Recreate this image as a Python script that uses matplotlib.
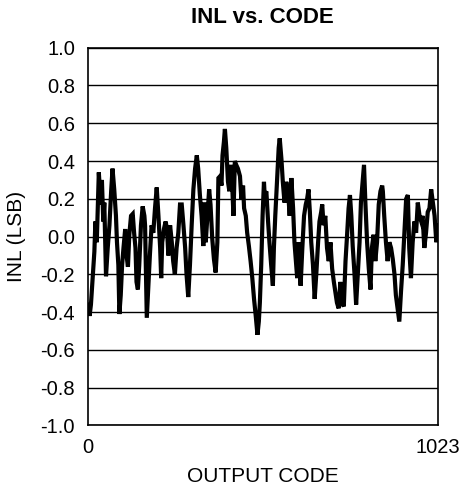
import matplotlib
matplotlib.use("Agg")
import matplotlib.pyplot as plt

plt.rcParams['font.family'] = ['Liberation Sans', 'DejaVu Sans']

# INL readings, output code vs. error in LSB
code = [0, 3, 6, 10, 15, 20, 23, 27, 33, 36, 39, 42, 46, 49, 52, 54, 59, 64, 69, 73,
        78, 83, 86, 90, 93, 97, 101, 105, 110, 114, 118, 122, 127, 132, 136, 140, 143, 147, 151, 156,
        161, 166, 168, 173, 178, 182, 187, 192, 197, 202, 207, 212, 215, 218, 223, 228, 232, 236, 241, 246,
        250, 255, 260, 265, 270, 275, 280, 285, 289, 294, 299, 304, 309, 314, 319, 323, 328, 333, 338, 341,
        345, 350, 355, 359, 364, 369, 374, 379, 382, 387, 391, 394, 398, 401, 405, 410, 414, 418, 423, 426,
        430, 434, 439, 445, 449, 454, 457, 462, 466, 471, 476, 481, 486, 491, 496, 500, 503, 507, 511, 515,
        517, 522, 527, 531, 536, 541, 544, 548, 553, 558, 561, 566, 570, 575, 580, 585, 590, 595, 600, 604,
        609, 612, 616, 619, 622, 627, 632, 637, 641, 645, 649, 653, 658, 663, 668, 673, 677, 682, 685, 689,
        694, 699, 704, 709, 714, 719, 723, 728, 733, 738, 743, 748, 753, 757, 762, 766, 770, 774, 779, 784,
        789, 794, 798, 803, 807, 811, 816, 821, 826, 830, 835, 840, 845, 850, 855, 860, 862, 866, 871, 876,
        881, 886, 891, 896, 900, 905, 910, 915, 920, 925, 930, 935, 939, 944, 949, 954, 959, 964, 969, 974,
        978, 983, 988, 993, 998, 1003, 1008, 1013, 1018, 1023]
inl = [-0.40, -0.35, -0.42, -0.36, -0.22, -0.08, 0.08, -0.03, 0.34, 0.25, 0.17, 0.30, 0.08, 0.18, -0.06, -0.21, -0.06, 0.06, 0.24, 0.36,
       0.25, 0.11, -0.03, -0.15, -0.41, -0.31, -0.15, -0.06, 0.04, -0.10, -0.16, 0.01, 0.11, 0.12, 0.02, -0.06, -0.24, -0.28, -0.15, 0.06,
       0.16, 0.11, 0.06, -0.43, -0.24, -0.10, 0.06, 0.02, 0.15, 0.26, 0.11, -0.06, -0.22, -0.03, 0.04, 0.08, 0.04, -0.10, 0.06, -0.03,
       -0.13, -0.20, -0.06, 0.02, 0.17, 0.17, 0.06, -0.06, -0.20, -0.32, -0.15, 0.06, 0.25, 0.36, 0.43, 0.36, 0.22, 0.11, -0.05, 0.18,
       -0.03, 0.11, 0.25, 0.17, -0.01, -0.12, -0.19, -0.03, 0.31, 0.32, 0.27, 0.43, 0.50, 0.57, 0.47, 0.29, 0.24, 0.38, 0.24, 0.11,
       0.40, 0.38, 0.36, 0.32, 0.20, 0.27, 0.15, 0.11, 0.02, -0.05, -0.13, -0.22, -0.33, -0.42, -0.52, -0.45, -0.35, -0.15, 0.11, 0.29,
       0.22, 0.24, 0.08, -0.03, -0.15, -0.26, -0.06, 0.11, 0.29, 0.47, 0.52, 0.41, 0.29, 0.18, 0.29, 0.25, 0.11, 0.31, 0.15, -0.03,
       -0.15, -0.22, -0.03, -0.17, -0.26, -0.06, 0.11, 0.17, 0.20, 0.25, 0.13, -0.03, -0.15, -0.33, -0.19, -0.03, 0.08, 0.13, 0.17, 0.06,
       0.11, -0.06, -0.13, -0.03, -0.17, -0.24, -0.29, -0.35, -0.38, -0.24, -0.35, -0.37, -0.13, -0.01, 0.15, 0.22, 0.11, -0.05, -0.19, -0.36,
       -0.20, -0.03, 0.18, 0.29, 0.38, 0.18, -0.03, -0.17, -0.28, -0.06, 0.01, -0.13, -0.03, 0.17, 0.24, 0.27, 0.24, 0.11, -0.03, -0.13,
       -0.03, -0.06, -0.12, -0.20, -0.31, -0.38, -0.45, -0.29, -0.15, 0.02, 0.20, 0.22, -0.06, -0.22, -0.03, 0.08, 0.02, 0.18, 0.11, 0.08,
       0.11, -0.06, 0.02, 0.13, 0.15, 0.25, 0.18, 0.11, -0.03, 0.06]

yticks = [-1.0, -0.8, -0.6, -0.4, -0.2, 0.0, 0.2, 0.4, 0.6, 0.8, 1.0]

fig = plt.figure(figsize=(4.64, 4.93), dpi=100)
ax = fig.add_axes([0.1886, 0.137, 0.7554, 0.7662])

for yv in yticks:
    ax.axhline(yv, color='black', lw=1.0, zorder=1)
ax.plot(code, inl, color='black', lw=3.0, solid_joinstyle='miter', zorder=3)

ax.set_xlim(0, 1023)
ax.set_ylim(-1.0, 1.0)
ax.set_xticks([0, 1023])
ax.set_xticklabels(['0', '1023'])
ax.set_yticks(yticks)
ax.set_yticklabels(['%.1f' % v for v in yticks])
ax.tick_params(length=0, labelsize=14.5, pad=9)

for s in ax.spines.values():
    s.set_linewidth(1.2)
    s.set_color('black')

ax.set_title('INL vs. CODE', fontsize=16, fontweight='bold', pad=18)
ax.set_xlabel('OUTPUT CODE', fontsize=15, labelpad=7)
ax.set_ylabel('INL (LSB)', fontsize=15, labelpad=10)

fig.savefig('out.png', dpi=100)
